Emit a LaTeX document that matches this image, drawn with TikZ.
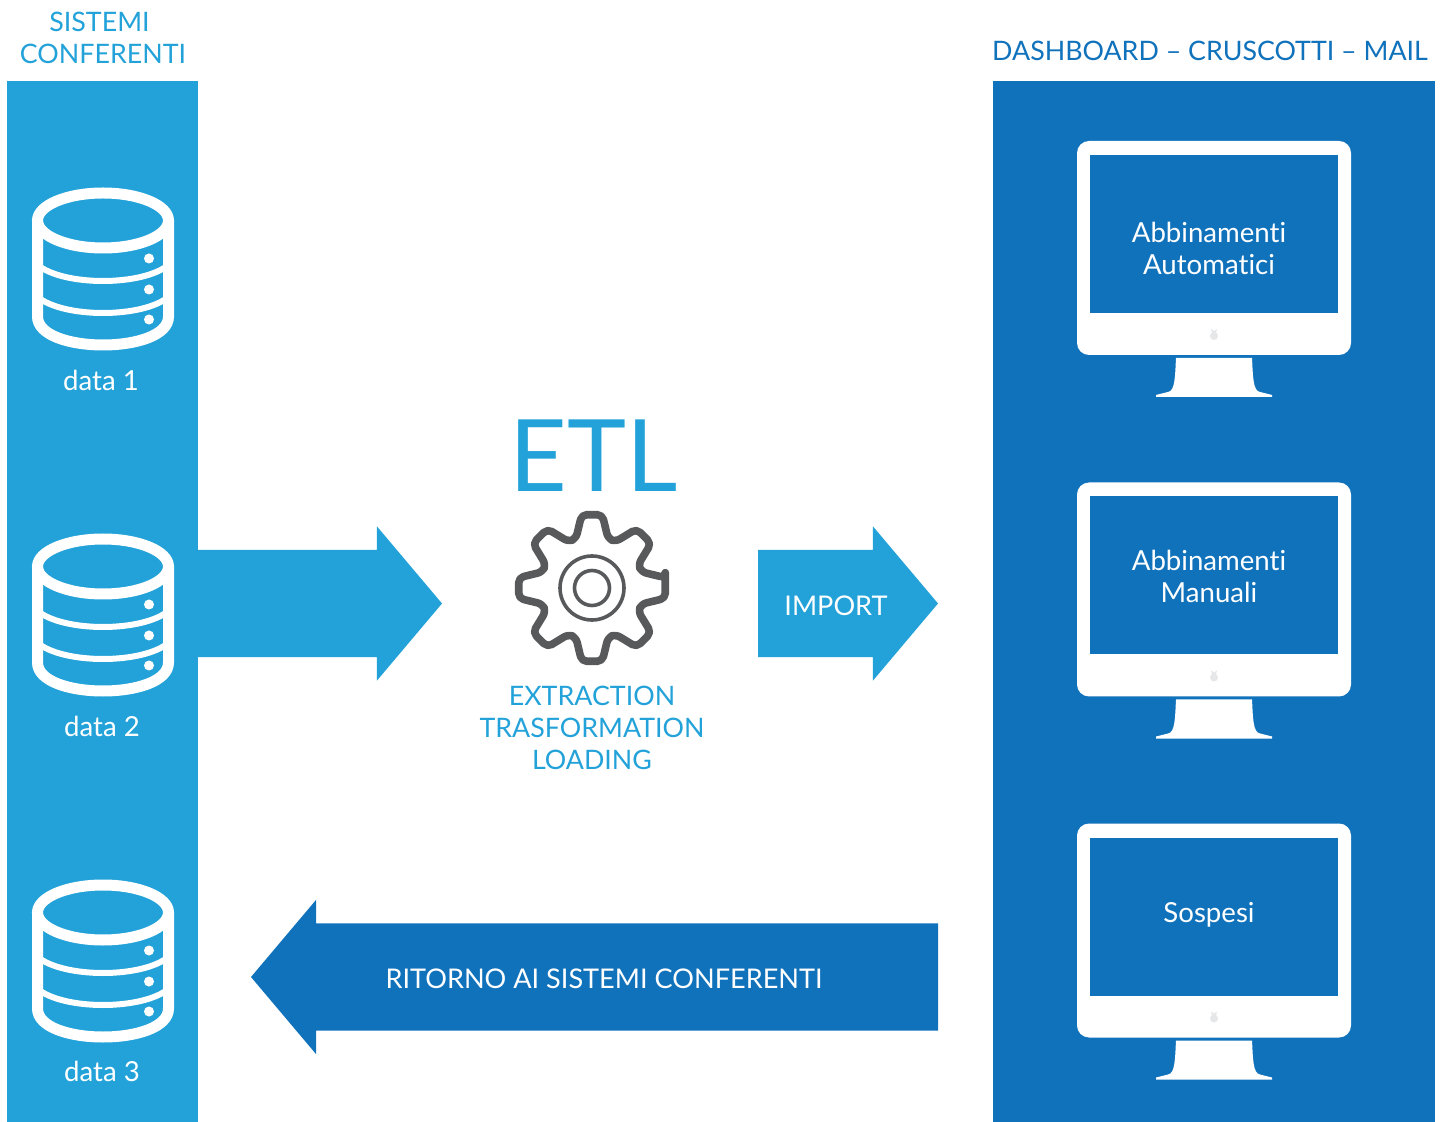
\documentclass[tikz,border=0pt]{standalone}
\usepackage{fontspec}
\usepackage{tikz}
\usetikzlibrary{shapes.arrows}
\setmainfont{Lato}[Ligatures=NoCommon]

\definecolor{lightblue}{HTML}{22A2D9}
\definecolor{darkblue}{HTML}{1172BC}
\definecolor{gearcolor}{HTML}{58595B}
\definecolor{logocolor}{HTML}{E6E7E8}

\tikzset{
    database/.pic={
        \draw[white, line width=5.5pt] (0,0) ellipse [x radius=65.5, y radius=27.5];
        \draw[white, line width=5.5pt] (-65.5,0) -- (-65.5,96) .. controls (-65.5,134) and (65.5,134) .. (65.5,96) -- (65.5,0);
        \draw[white, line width=3pt] (-66,44) .. controls (-40,66) and (40,66) .. (66,44);
        \draw[white, line width=3pt] (-66,76) .. controls (-40,98) and (40,98) .. (66,76);
        \fill[white] (46,38) circle (5);
        \fill[white] (46,69) circle (5);
        \fill[white] (46,99) circle (5);
    },
    monitor/.pic={
        \fill[white, rounded corners=6pt] (-137,0) rectangle (137,214);
        \fill[darkblue] (-124,14) rectangle (124,172);
        \fill[white] (-38,217) -- (38,217) .. controls (39,236) and (39,250) .. (46,251)
            -- (58,254) -- (58,256) -- (-58,256) -- (-58,254) -- (-46,251)
            .. controls (-39,250) and (-39,236) .. (-38,217) -- cycle;
        \fill[logocolor] (0,195) circle (4);
        \fill[logocolor] (-3,188) -- (0,190) -- (3,188) -- (2,192) -- (-2,192) -- cycle;
    }
}

\begin{document}
\begin{tikzpicture}[x=0.5pt, y=-0.5pt]
    \tikzstyle{title light}=[
        text = lightblue,
        align = center,
        font = \fontsize{13.4}{16}\selectfont
    ]
    \tikzstyle{title dark}=[
        text = darkblue,
        align = center,
        font = \fontsize{13.4}{16}\selectfont
    ]
    \tikzstyle{label}=[
        text = white,
        align = center,
        font = \fontsize{13.8}{16}\selectfont
    ]
    \tikzstyle{arrow label}=[
        text = white,
        align = center,
        font = \fontsize{13.55}{16}\selectfont
    ]
    \tikzstyle{block arrow}=[
        single arrow,
        anchor = tail,
        inner sep = 0pt,
        outer sep = 0pt,
        text height = 53.25pt,
        single arrow head extend = 11.75pt,
        single arrow tip angle = 99.7
    ]

    \useasboundingbox (0,0) rectangle (1446,1122);

    % panels
    \fill[lightblue] (7,81) rectangle (198,1122);
    \fill[darkblue] (993,81) rectangle (1435,1122);

    \node[title light] (sources) at (103,38)  {SISTEMI\hspace*{3.5pt}\\CONFERENTI};
    \node[title dark]  (targets) at (1210,51) {DASHBOARD -- CRUSCOTTI -- MAIL};

    % databases
    \pic (db1) at (103,220.5) {database};
    \pic (db2) at (103,566.5) {database};
    \pic (db3) at (103,912.5) {database};

    \node[label] (data1) at (101,380)  {data 1};
    \node[label] (data2) at (102,726)  {data 2};
    \node[label] (data3) at (102,1071) {data 3};

    % monitors
    \pic (mon1) at (1214,141)   {monitor};
    \pic (mon2) at (1214,482.5) {monitor};
    \pic (mon3) at (1214,823.5) {monitor};

    \node[label] (auto)    at (1209,248) {Abbinamenti\\Automatici};
    \node[label] (manual)  at (1209,576) {Abbinamenti\\Manuali};
    \node[label] (pending) at (1209,915) {Sospesi};

    % arrows
    \node[block arrow, fill=lightblue, minimum height=122pt] (input) at (198,603.5) {};
    \node[block arrow, fill=lightblue, minimum height=90pt] (import) at (758,603.5) {};
    \node[block arrow, fill=darkblue, minimum height=343.5pt, shape border rotate=180] (return) at (938,977) {};

    \node[arrow label] (importtext) at (836,606) {IMPORT};
    \node[arrow label] (returntext) at (604,979) {RITORNO AI SISTEMI CONFERENTI};

    % gear
    \node[text=lightblue, font=\fontsize{50}{50}\selectfont] (etl) at (594,456) {ETL};
    \begin{scope}[shift={(592,588)}]
        \draw[gearcolor, line width=3.8pt, rounded corners=2.5pt, line join=round]
            (-8:74) \foreach \a in {0,45,...,315} {
                -- (\a-8:74) -- (\a+8:74) -- (\a+18:52) -- (\a+27:52)
            } -- cycle;
        \draw[gearcolor, line width=1.8pt] (0,0) circle (32);
        \draw[gearcolor, line width=1.8pt] (0,0) circle (17.5);
    \end{scope}
    \node[title light] (etltext) at (592,728) {EXTRACTION\\TRASFORMATION\\LOADING};

\end{tikzpicture}
\end{document}
